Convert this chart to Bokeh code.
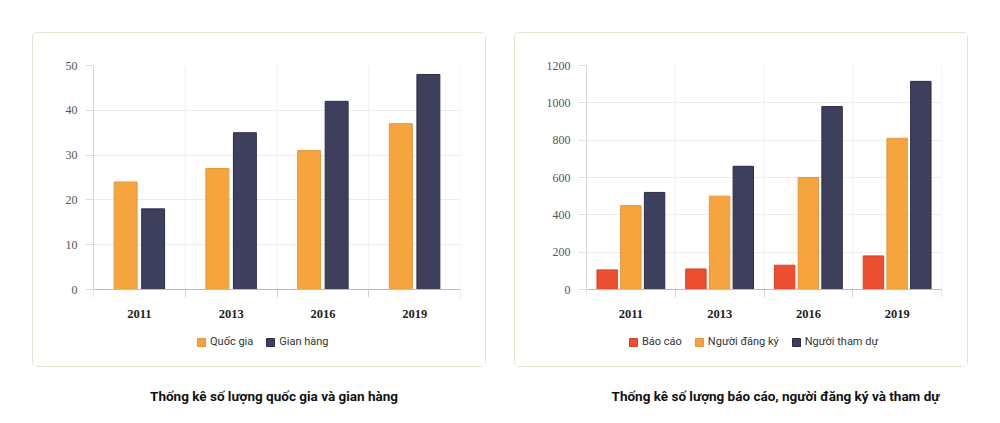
from bokeh.plotting import figure
from bokeh.models import (Range1d, FixedTicker, LinearAxis, Legend, LegendItem,
                          ColumnDataSource, Spacer, Grid)
from bokeh.layouts import row, column
from bokeh.core.properties import value
from bokeh.embed import file_html
from bokeh.resources import INLINE

# ---------------- data ----------------
years = ["2011", "2013", "2016", "2019"]

quoc_gia = [24, 27, 31, 37]
gian_hang = [18, 35, 42, 48]

bao_cao = [105, 110, 130, 180]
nguoi_dang_ky = [450, 500, 600, 810]
nguoi_tham_du = [520, 660, 980, 1115]

left_ticks = [0, 10, 20, 30, 40, 50]
right_ticks = [0, 200, 400, 600, 800, 1000, 1200]

caption_left = "Thống kê số lượng quốc gia và gian hàng"
caption_right = "Thống kê số lượng báo cáo, người đăng ký và tham dự"

ORANGE = "#F6A43D"
ORANGE_L = "#E89638"
DARK = "#3E3F5D"
DARK_L = "#2C2D45"
RED = "#EC4E30"
RED_L = "#D4432A"

SERIF = "Liberation Serif"
SANS = "Roboto"
PANEL_STYLE = {"border": "1px solid #e6e4d2", "border-radius": "5px"}

PLOT_H = 224      # pixel height of the value area (0 .. max)
BELOW_H = 79      # pixels below the zero line inside the panel


def make_panel(series, names, colors, lcolors, offsets, bar_w, ymax, yticks,
               border_left, border_right, legend_x):
    n = len(years)
    y_start = -ymax * BELOW_H / PLOT_H
    p = figure(width=454, height=335, output_backend="svg", toolbar_location=None,
               x_range=Range1d(-0.5, n - 0.5), y_range=Range1d(y_start, ymax),
               min_border_left=border_left, min_border_right=border_right,
               min_border_top=32, min_border_bottom=0,
               x_axis_type=None, y_axis_type=None)
    p.styles = PANEL_STYLE
    p.outline_line_color = None
    p.background_fill_color = "white"
    p.border_fill_color = "white"

    idx = list(range(n))
    borders = [i - 0.5 for i in range(n + 1)]

    # horizontal grid lines
    p.add_layout(Grid(dimension=1, ticker=FixedTicker(ticks=yticks),
                      grid_line_color="#ececec"))
    # vertical category separators (only over the value area)
    p.segment(x0=borders[1:], y0=[0] * n, x1=borders[1:], y1=[ymax] * n,
              line_color="#efefef", line_width=1)

    items = []
    for vals, name, c, lc, off in zip(series, names, colors, lcolors, offsets):
        src = ColumnDataSource(dict(x=[i + off for i in idx], top=vals))
        r = p.vbar(x="x", top="top", width=bar_w, bottom=0, source=src,
                   fill_color=c, line_color=lc, line_width=1)
        items.append(LegendItem(label=name, renderers=[r]))

    # x axis at value 0: labels at category centres, minor ticks at borders
    xa = LinearAxis(ticker=FixedTicker(ticks=idx, minor_ticks=borders),
                    fixed_location=0)
    xa.major_label_overrides = {i: years[i] for i in idx}
    xa.major_tick_line_color = None
    xa.major_tick_out = 0
    xa.major_tick_in = 0
    xa.minor_tick_line_color = "#cfcfcf"
    xa.minor_tick_out = 8
    xa.minor_tick_in = 0
    xa.axis_line_color = "#bdbdbd"
    xa.major_label_standoff = 12
    xa.major_label_text_font = SERIF
    xa.major_label_text_font_style = "bold"
    xa.major_label_text_font_size = "12.5px"
    xa.major_label_text_color = "#222222"
    p.add_layout(xa, "below")

    ya = LinearAxis(ticker=FixedTicker(ticks=yticks), bounds=(0, ymax))
    ya.major_tick_out = 8
    ya.major_tick_in = 0
    ya.major_tick_line_color = "#dedede"
    ya.minor_tick_line_color = None
    ya.axis_line_color = "#d8d8d8"
    ya.major_label_standoff = 8
    ya.major_label_text_font = SERIF
    ya.major_label_text_font_size = "12px"
    ya.major_label_text_color = "#555555"
    p.add_layout(ya, "left")

    leg = Legend(items=items, orientation="horizontal", location=(legend_x, 20),
                 glyph_width=10, glyph_height=10, label_height=12, label_width=10,
                 label_standoff=4, spacing=12, padding=0, margin=0,
                 border_line_color=None, background_fill_alpha=0,
                 label_text_font=SANS, label_text_font_size="11px",
                 label_text_color="#333333")
    p.add_layout(leg, "center")
    return p


left = make_panel([quoc_gia, gian_hang], ["Quốc gia", "Gian hàng"],
                  [ORANGE, DARK], [ORANGE_L, DARK_L], [-0.15, 0.15], 0.25,
                  50, left_ticks, 60, 27, 103)

right = make_panel([bao_cao, nguoi_dang_ky, nguoi_tham_du],
                   ["Báo cáo", "Người đăng ký", "Người tham dự"],
                   [RED, ORANGE, DARK], [RED_L, ORANGE_L, DARK_L],
                   [-0.267, 0.0, 0.267], 0.23, 1200, right_ticks, 71, 28, 42)

# captions
cap = figure(width=990, height=42, output_backend="svg", toolbar_location=None,
             x_range=Range1d(0, 990), y_range=Range1d(0, 42),
             min_border=0, x_axis_type=None, y_axis_type=None)
cap.outline_line_color = None
cap.xgrid.visible = False
cap.ygrid.visible = False
cap.text(x=[273.5, 775], y=[14, 14], text=[caption_left, caption_right],
         text_font=value(SANS), text_font_style="bold", text_font_size="13.5px",
         text_align="center", text_baseline="alphabetic", text_color="#111111")

layout = column(
    Spacer(height=32),
    row(Spacer(width=32), left, Spacer(width=28), right),
    cap,
)

open("out.html", "w").write(file_html(layout, INLINE))
